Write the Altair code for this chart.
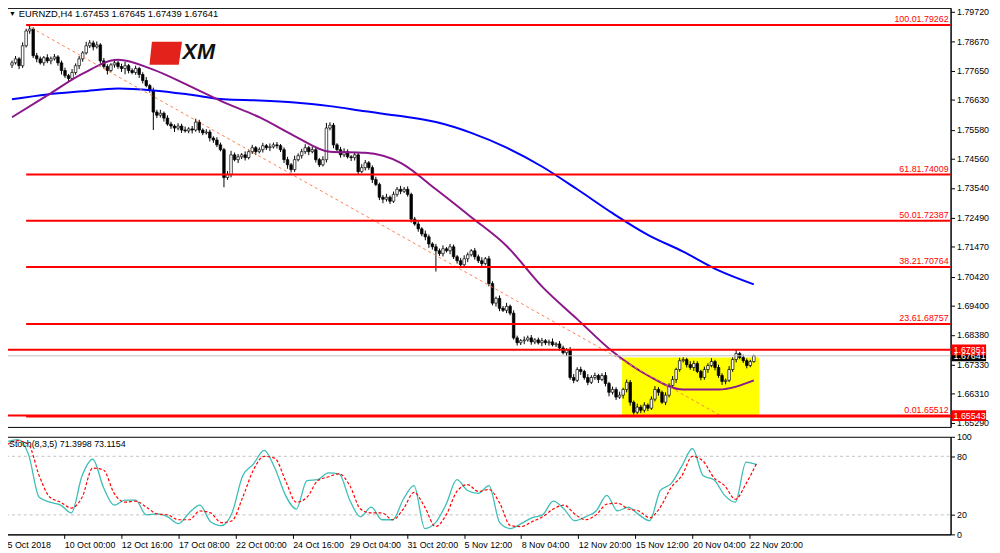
import json
import altair as alt
import pandas as pd

# ---------------- data ----------------
title_text = "EURNZD,H4  1.67453 1.67645 1.67439 1.67641"
stoch_text = "Stoch(8,3,5) 71.3998 73.1154"

BASE = 1.65      # candle values are typed in pips above this price
PIP = 0.0001
first_open = 1285
closes = [
    1293, 1307, 1283, 1353, 1405, 1412, 1318, 1307, 1293, 1311,
    1300, 1307, 1314, 1293, 1266, 1248, 1238, 1259, 1283, 1307,
    1328, 1353, 1363, 1349, 1356, 1300, 1280, 1266, 1286, 1293,
    1280, 1273, 1283, 1266, 1259, 1273, 1252, 1231, 1213, 1196,
    1120, 1109, 1116, 1099, 1078, 1071, 1064, 1071, 1057, 1054,
    1061, 1057, 1085, 1057, 1047, 1050, 1029, 1022, 1005, 988,
    890, 901, 970, 953, 963, 970, 960, 981, 995, 981,
    988, 1002, 995, 998, 1005, 1002, 988, 953, 935, 918,
    953, 967, 981, 995, 981, 988, 953, 935, 953, 1064,
    1074, 1005, 988, 970, 981, 963, 960, 970, 911, 925,
    942, 925, 883, 866, 821, 814, 821, 807, 831, 849,
    842, 849, 831, 744, 727, 710, 692, 682, 657, 647,
    633, 623, 640, 633, 647, 612, 598, 584, 605, 619,
    633, 612, 598, 588, 605, 518, 449, 466, 431, 424,
    438, 414, 327, 310, 317, 320, 327, 313, 320, 310,
    317, 310, 313, 303, 306, 292, 275, 285, 188, 178,
    216, 209, 188, 171, 188, 195, 181, 195, 167, 136,
    146, 119, 126, 146, 171, 101, 66, 84, 73, 91,
    80, 112, 146, 136, 101, 126, 160, 181, 216, 247,
    251, 233, 223, 237, 209, 188, 216, 230, 244, 223,
    195, 174, 178, 216, 251, 272, 258, 247, 230, 244,
    264,
]
wick_up = [
    8, 10, 6, 12, 8, 14, 6, 10, 8, 6,
    12, 8, 10, 6, 8, 10, 6, 12, 8, 10,
    6, 14, 10, 8, 12, 6, 10, 8, 6, 12,
    8, 10, 14, 6, 8, 10, 6, 8, 12, 6,
    10, 8, 12, 6, 10, 8, 6, 10, 8, 12,
    6, 10, 12, 8, 6, 10, 8, 6, 10, 8,
    6, 12, 14, 8, 10, 6, 12, 8, 10, 6,
    8, 10, 6, 12, 8, 10, 6, 8, 10, 6,
    14, 8, 10, 12, 6, 10, 8, 6, 12, 18,
    10, 8, 6, 10, 12, 8, 6, 10, 8, 12,
    10, 6, 8, 10, 6, 8, 12, 6, 10, 8,
    12, 8, 10, 6, 8, 10, 6, 12, 8, 6,
    10, 8, 12, 6, 10, 8, 6, 10, 12, 8,
    6, 10, 8, 12, 6, 10, 8, 6, 10, 8,
    12, 6, 10, 8, 6, 12, 8, 10, 6, 8,
    10, 6, 8, 12, 6, 10, 8, 6, 10, 12,
    8, 10, 6, 12, 8, 10, 6, 8, 12, 6,
    10, 8, 12, 6, 10, 8, 6, 12, 8, 10,
    6, 10, 12, 8, 6, 10, 8, 12, 6, 10,
    8, 6, 12, 10, 8, 6, 10, 8, 12, 6,
    10, 8, 6, 12, 8, 13, 6, 10, 8, 6,
    4,
]
wick_dn = [
    10, 6, 12, 8, 6, 10, 8, 12, 6, 10,
    8, 12, 6, 10, 14, 8, 10, 6, 8, 12,
    10, 6, 8, 12, 6, 10, 8, 14, 6, 10,
    8, 12, 20, 10, 6, 8, 12, 10, 6, 8,
    63, 10, 8, 12, 6, 10, 14, 8, 10, 6,
    8, 12, 6, 10, 8, 6, 12, 10, 8, 6,
    34, 8, 10, 6, 12, 8, 10, 6, 8, 12,
    6, 10, 8, 12, 6, 10, 8, 12, 14, 10,
    8, 6, 10, 8, 12, 6, 10, 8, 6, 10,
    8, 12, 6, 10, 8, 6, 12, 10, 8, 6,
    10, 8, 12, 6, 10, 14, 8, 10, 6, 8,
    10, 6, 8, 12, 6, 10, 8, 12, 14, 10,
    73, 8, 10, 6, 12, 8, 10, 6, 8, 12,
    6, 10, 8, 12, 6, 10, 8, 12, 10, 6,
    10, 8, 6, 10, 8, 12, 6, 10, 8, 6,
    12, 8, 10, 6, 8, 10, 6, 12, 8, 10,
    6, 12, 8, 10, 6, 8, 12, 6, 10, 14,
    8, 10, 6, 12, 10, 12, 8, 6, 10, 8,
    10, 6, 8, 12, 6, 10, 8, 6, 12, 8,
    6, 10, 8, 12, 6, 10, 8, 12, 6, 10,
    8, 12, 10, 6, 8, 10, 6, 8, 10, 6,
    4,
]

ma_bars = list(range(0, 211, 10))
ma_purple = [1102, 1179, 1255, 1304, 1269, 1213, 1154, 1102, 1036, 981, 977,
             942, 849, 751, 650, 508, 393, 279, 195, 146, 146, 178]
ma_blue = [1165, 1182, 1193, 1203, 1196, 1182, 1165, 1161, 1154, 1141, 1123,
           1106, 1085, 1047, 995, 929, 849, 765, 689, 630, 564, 515]

stoch_bars = list(range(0, 211, 3))
stoch_main = [95, 97, 82, 38, 33, 30, 22, 60, 77, 48,
              30, 35, 35, 20, 21, 18, 11, 22, 30, 13,
              9, 22, 60, 72, 86, 68, 40, 26, 55, 56,
              63, 62, 35, 18, 28, 15, 15, 36, 50, 6,
              12, 31, 56, 45, 42, 50, 12, 6, 11, 17,
              20, 34, 26, 14, 18, 24, 40, 24, 28, 20,
              14, 45, 52, 70, 88, 60, 56, 40, 33, 74,
              71.3998]
stoch_signal = [92, 96, 92, 60, 38, 33, 27, 38, 68, 66,
                42, 33, 34, 28, 21, 20, 15, 15, 24, 22,
                12, 14, 38, 66, 80, 78, 55, 33, 38, 55,
                59, 62, 50, 26, 22, 22, 15, 26, 43, 28,
                8, 20, 44, 51, 44, 46, 32, 9, 8, 13,
                18, 26, 30, 21, 15, 20, 31, 32, 26, 24,
                17, 28, 48, 60, 80, 75, 58, 50, 36, 52,
                73.1154]
stoch_levels = [20, 80]
stoch_ticks = [0, 20, 80, 100]

price_ticks = [1.79720, 1.78670, 1.77650, 1.76630, 1.75580, 1.74560, 1.73540,
               1.72490, 1.71470, 1.70420, 1.69400, 1.68380, 1.67330, 1.66310, 1.65290]
date_ticks = list(range(0, 209, 16))
date_labels = ["5 Oct 2018", "10 Oct 00:00", "12 Oct 16:00", "17 Oct 08:00",
               "22 Oct 00:00", "24 Oct 16:00", "29 Oct 04:00", "31 Oct 20:00",
               "5 Nov 12:00", "8 Nov 04:00", "12 Nov 20:00", "15 Nov 12:00",
               "20 Nov 04:00", "22 Nov 20:00"]

fib_pct = ["100.0", "61.8", "50.0", "38.2", "23.6", "0.0"]
fib_price = [1.79262, 1.74009, 1.72387, 1.70764, 1.68757, 1.65512]
hline_price = [1.67851, 1.65543]
last_price = 1.67641
trend_bars = [4, 201]
trend_price = [1.79262, 1.65512]
box_bars = [172.7, 211.5]
box_price = [1.65563, 1.67579]

# ---------------- tables ----------------
n = min(len(closes), len(wick_up), len(wick_dn))
opens = [first_open] + closes[:-1]
candles = pd.DataFrame({
    "i": list(range(n)),
    "o": [BASE + opens[k] * PIP for k in range(n)],
    "c": [BASE + closes[k] * PIP for k in range(n)],
    "h": [BASE + (max(opens[k], closes[k]) + wick_up[k]) * PIP for k in range(n)],
    "l": [BASE + (min(opens[k], closes[k]) - wick_dn[k]) * PIP for k in range(n)],
})
ma_df = pd.DataFrame({"i": ma_bars,
                      "purple": [BASE + v * PIP for v in ma_purple],
                      "blue": [BASE + v * PIP for v in ma_blue]})
st_df = pd.DataFrame({"i": stoch_bars, "main": stoch_main, "sig": stoch_signal})
fib_df = pd.DataFrame({"p": fib_price, "b0": trend_bars[0],
                       "t": [f"{a}{b:.5f}" for a, b in zip(fib_pct, fib_price)]})
hl_df = pd.DataFrame({"p": hline_price})
last_df = pd.DataFrame({"p": [last_price]})
trend_df = pd.DataFrame({"i": trend_bars, "p": trend_price})
box_df = pd.DataFrame({"x0": [box_bars[0]], "x1": [box_bars[1]],
                       "y0": [box_price[0]], "y1": [box_price[1]]})
tag_df = pd.DataFrame({"p": [last_price] + hline_price,
                       "t": [f"{last_price:.5f}"] + [f"{v:.5f}" for v in hline_price],
                       "col": ["#000000", "#FF0000", "#FF0000"]})
one = pd.DataFrame({"a": [0]})

# ---------------- geometry / scales ----------------
W, HM, HS = 958, 425, 99
FONT = "Liberation Sans"
XS = alt.Scale(domain=[-0.3, 264.3], nice=False, zero=False)
YS = alt.Scale(domain=[1.65144, 1.79860], nice=False, zero=False)
SS = alt.Scale(domain=[0, 100], nice=False, zero=False)

YAX = alt.Axis(orient="right", values=price_ticks, format=".5f", title=None, grid=False,
               tickSize=4, labelPadding=2, labelFontSize=9, labelFont=FONT,
               labelColor="black", domainColor="black", tickColor="black",
               labelOverlap=False, labelFlush=False)
SAX = alt.Axis(orient="right", values=stoch_ticks, title=None, grid=False,
               tickSize=4, labelPadding=2, labelFontSize=9, labelFont=FONT,
               labelColor="black", domainColor="black", tickColor="black",
               labelOverlap=False, labelFlush=False)
label_expr = json.dumps(date_labels) + "[round(datum.value / 16)]"
XAX = alt.Axis(values=date_ticks, labelExpr=label_expr, title=None, grid=False,
               tickSize=4, labelPadding=2, labelAlign="left", labelFontSize=9,
               labelFont=FONT, labelColor="black", domainColor="black",
               tickColor="black", labelOverlap=False, labelFlush=False)


def X(f):
    return alt.X(f, type="quantitative", scale=XS, axis=None)


def Y(f):
    return alt.Y(f, type="quantitative", scale=YS, axis=YAX)


# ---------------- main panel ----------------
box = alt.Chart(box_df).mark_rect(color="#FFFF00").encode(
    x=X("x0"), x2="x1", y=Y("y0"), y2="y1")
wicks = alt.Chart(candles).mark_rule(color="black", strokeWidth=1).encode(
    x=X("i"), y=Y("l"), y2="h")
bodies = alt.Chart(candles).mark_bar(size=2.6, stroke="black", strokeWidth=0.7).encode(
    x=X("i"), y=Y("o"), y2="c",
    fill=alt.condition("datum.c >= datum.o", alt.value("white"), alt.value("black")))
blue = alt.Chart(ma_df).mark_line(color="#0000FF", strokeWidth=2, interpolate="monotone").encode(
    x=X("i"), y=Y("blue"))
purple = alt.Chart(ma_df).mark_line(color="#8B168B", strokeWidth=2, interpolate="monotone").encode(
    x=X("i"), y=Y("purple"))
trend = alt.Chart(trend_df).mark_line(color="#FF7F50", strokeWidth=1, strokeDash=[3, 3]).encode(
    x=X("i"), y=Y("p"))
last_line = alt.Chart(last_df).mark_rule(color="#C0C0C0", strokeWidth=1).encode(
    x=alt.value(0), x2=alt.value(W), y=Y("p"))
fib_lines = alt.Chart(fib_df).mark_rule(color="#FF0000", strokeWidth=2).encode(
    x=X("b0"), x2=alt.value(W), y=Y("p"))
hlines = alt.Chart(hl_df).mark_rule(color="#FF0000", strokeWidth=2).encode(
    x=alt.value(0), x2=alt.value(W), y=Y("p"))
fib_text = alt.Chart(fib_df).mark_text(align="right", baseline="bottom", dy=-1,
                                        color="#FF0000", fontSize=9, font=FONT).encode(
    x=alt.value(W - 2), y=Y("p"), text="t:N")
tags = alt.Chart(tag_df).mark_rule(strokeWidth=11).encode(
    x=alt.value(W + 1), x2=alt.value(W + 36), y=Y("p"),
    color=alt.Color("col:N", scale=None))
tag_text = alt.Chart(tag_df).mark_text(align="left", baseline="middle", color="white",
                                        fontSize=9, font=FONT).encode(
    x=alt.value(W + 3), y=Y("p"), text="t:N")
tri = alt.Chart(one).mark_text(text="▼", align="left", baseline="middle", fontSize=7,
                               color="black").encode(x=alt.value(3), y=alt.value(6))
ttl = alt.Chart(one).mark_text(text=title_text, align="left", baseline="middle",
                               fontSize=9.5, font=FONT, color="black").encode(
    x=alt.value(13), y=alt.value(6))
logo_shape = alt.Chart(one).mark_point(
    shape="M-0.85,-0.7L1,-0.7L0.8,0.7L-1,0.7Z", filled=True, size=1089,
    color="#E3231B", opacity=1).encode(x=alt.value(162), y=alt.value(46))
logo_text = alt.Chart(one).mark_text(text="XM", align="left", baseline="middle",
                                     fontSize=22, fontWeight="bold", fontStyle="italic",
                                     font="Liberation Sans", color="#111111").encode(
    x=alt.value(179), y=alt.value(45))

main = alt.layer(box, wicks, bodies, blue, purple, trend, last_line, fib_lines,
                 hlines, fib_text, tags, tag_text, tri, ttl, logo_shape,
                 logo_text).properties(width=W, height=HM)

# ---------------- stochastic panel ----------------
lvl_df = pd.DataFrame({"v": stoch_levels})
lv = alt.Chart(lvl_df).mark_rule(color="#C0C0C0", strokeDash=[3, 3], strokeWidth=1).encode(
    x=alt.value(0), x2=alt.value(W), y=alt.Y("v:Q", scale=SS, axis=SAX))
s_main = alt.Chart(st_df).mark_line(color="#3CBDB5", strokeWidth=1.3,
                                    interpolate="monotone").encode(
    x=alt.X("i:Q", scale=XS, axis=XAX), y=alt.Y("main:Q", scale=SS, axis=SAX))
s_sig = alt.Chart(st_df).mark_line(color="#FF0000", strokeWidth=1.2, strokeDash=[3, 2],
                                   interpolate="monotone").encode(
    x=alt.X("i:Q", scale=XS, axis=XAX), y=alt.Y("sig:Q", scale=SS, axis=SAX))
s_lbl = alt.Chart(one).mark_text(text=stoch_text, align="left", baseline="middle",
                                 fontSize=9, font=FONT, color="black").encode(
    x=alt.value(3), y=alt.value(7))
stoch = alt.layer(lv, s_main, s_sig, s_lbl).properties(width=W, height=HS)

chart = alt.vconcat(
    main, stoch, spacing=3,
    padding={"left": -5, "top": -5, "right": 0, "bottom": 0},
    background="white",
).configure_view(stroke="black", strokeWidth=1)

chart.save("out.html", embed_options={"renderer": "svg", "actions": False})
